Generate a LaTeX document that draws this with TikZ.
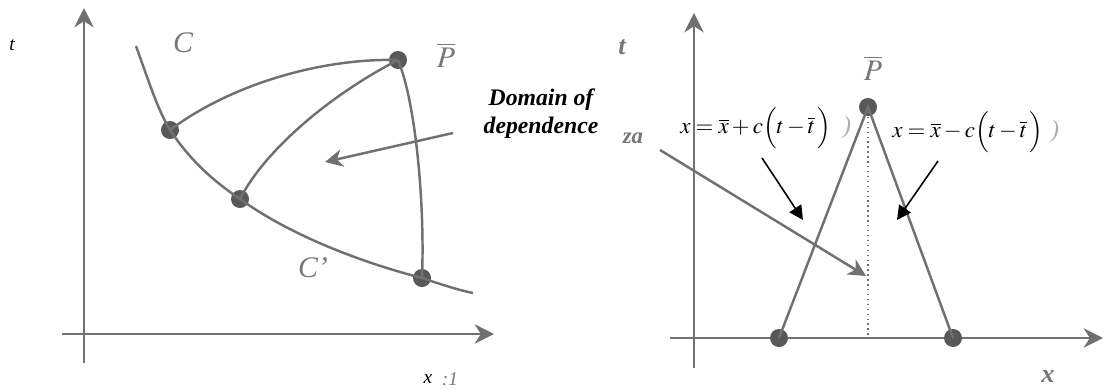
\documentclass[tikz,border=0pt]{standalone}
\usepackage{mathptmx}
\usepackage{fontspec}
\setmainfont{Liberation Serif}
\usetikzlibrary{arrows.meta}
\definecolor{ln}{HTML}{707070}
\definecolor{pt}{HTML}{585858}
\definecolor{lb}{HTML}{777777}
\tikzset{
  gl/.style={draw=ln, line width=1.4pt},
  axis/.style={gl, -{Stealth[length=11pt,width=11pt,inset=3.5pt]}},
  dot/.style={circle, fill=pt, inner sep=0pt, minimum size=18*0.02cm},
  glbl/.style={text=lb, font=\fontsize{17}{20}\selectfont\itshape},
  blk/.style={draw=black, line width=0.9pt, -{Triangle[length=8pt,width=8pt]}},
  formula/.style={font=\fontsize{13}{15}\selectfont, inner sep=1pt},
}
\begin{document}
\begin{tikzpicture}[x=0.02cm,y=-0.02cm]
\useasboundingbox (0,0) rectangle (1108,389);
% ---------- left panel ----------
\coordinate (lyb) at (84,363);
\coordinate (lyt) at (84,8);
\coordinate (lxl) at (62,334);
\coordinate (lxr) at (494,334);
\draw[axis] (lyb) -- (lyt);
\draw[axis] (lxl) -- (lxr);
\node[font=\fontsize{11}{13}\selectfont\itshape] (lt) at (12,45) {t};
\node[font=\fontsize{11}{13}\selectfont\itshape] (lx) at (428,379) {x};
\node[text=lb, font=\fontsize{11}{13}\selectfont\itshape] (lx1) at (450,379) {:1};
\node[dot] (A) at (170,130) {};
\node[dot] (B) at (240,199) {};
\node[dot] (P) at (398,60) {};
\node[dot] (D) at (422,278) {};
\coordinate (cs) at (136,46);
\coordinate (ce) at (473,293);
\draw[gl] (cs) .. controls (150,85) and (158,110) .. (A.center)
   .. controls (190,160) and (212,180) .. (B.center)
   .. controls (290,235) and (360,262) .. (D.center)
   .. controls (440,284) and (458,290) .. (ce);
\draw[gl] (A.center) .. controls (230,85) and (320,58) .. (P.center);
\draw[gl] (B.center) .. controls (265,150) and (330,95) .. (P.center);
\draw[gl] (P.center) .. controls (415,100) and (425,200) .. (D.center);
\node[glbl] (lC) at (183,43) {C};
\node[glbl] (lCp) at (313,268) {C'};
\node[glbl] (lP) at (446,55) {$\overline{P}$};
\coordinate (la0) at (453,133);
\coordinate (la1) at (325,162);
\draw[gl, -{Stealth[length=10pt,width=10pt,inset=3pt]}] (la0) -- (la1);
% ---------- label ----------
\node[align=center, font=\fontsize{13.5}{16}\selectfont\bfseries\itshape] (dom) at (541,114) {Domain of\\dependence};
\node[text=lb, font=\fontsize{13}{15}\selectfont\bfseries\itshape] (za) at (633,138) {za};
% ---------- right panel ----------
\coordinate (ryb) at (694,368);
\coordinate (ryt) at (694,13);
\coordinate (rxl) at (670,338);
\coordinate (rxr) at (1103,338);
\draw[axis] (ryb) -- (ryt);
\draw[axis] (rxl) -- (rxr);
\node[text=lb, font=\fontsize{15}{17}\selectfont\bfseries\itshape] (rt) at (622,47) {t};
\node[text=lb, font=\fontsize{15}{17}\selectfont\bfseries\itshape] (rx) at (1048,376) {x};
\node[dot] (Q) at (868,107) {};
\node[dot] (L) at (779,338) {};
\node[dot] (R) at (953,338) {};
\coordinate (F) at (868,338);
\draw[gl] (L.center) -- (Q.center) -- (R.center);
\draw[draw=ln, line width=0.8pt, dotted] (Q.center) -- (F);
\node[glbl] (rP) at (873,68) {$\overline{P}$};
\coordinate (ra0) at (660,150);
\coordinate (ra1) at (866,276);
\draw[gl, -{Stealth[length=10pt,width=10pt,inset=3pt]}] (ra0) -- (ra1);
\node[formula] (fl) at (756,128) {$x=\overline{x}+c\Bigl(t-\overline{t}\,\Bigr)$};
\node[formula] (fr) at (968,132) {$x=\overline{x}-c\Bigl(t-\overline{t}\,\Bigr)$};
\node[text=lb!60, font=\fontsize{14}{16}\selectfont\itshape] (g1) at (847,128) {)};
\node[text=lb!60, font=\fontsize{14}{16}\selectfont\itshape] (g2) at (1055,132) {)};
\coordinate (b0) at (762,158);
\coordinate (b1) at (803,220);
\coordinate (c0) at (938,161);
\coordinate (c1) at (897,220);
\draw[blk] (b0) -- (b1);
\draw[blk] (c0) -- (c1);
\end{tikzpicture}
\end{document}
